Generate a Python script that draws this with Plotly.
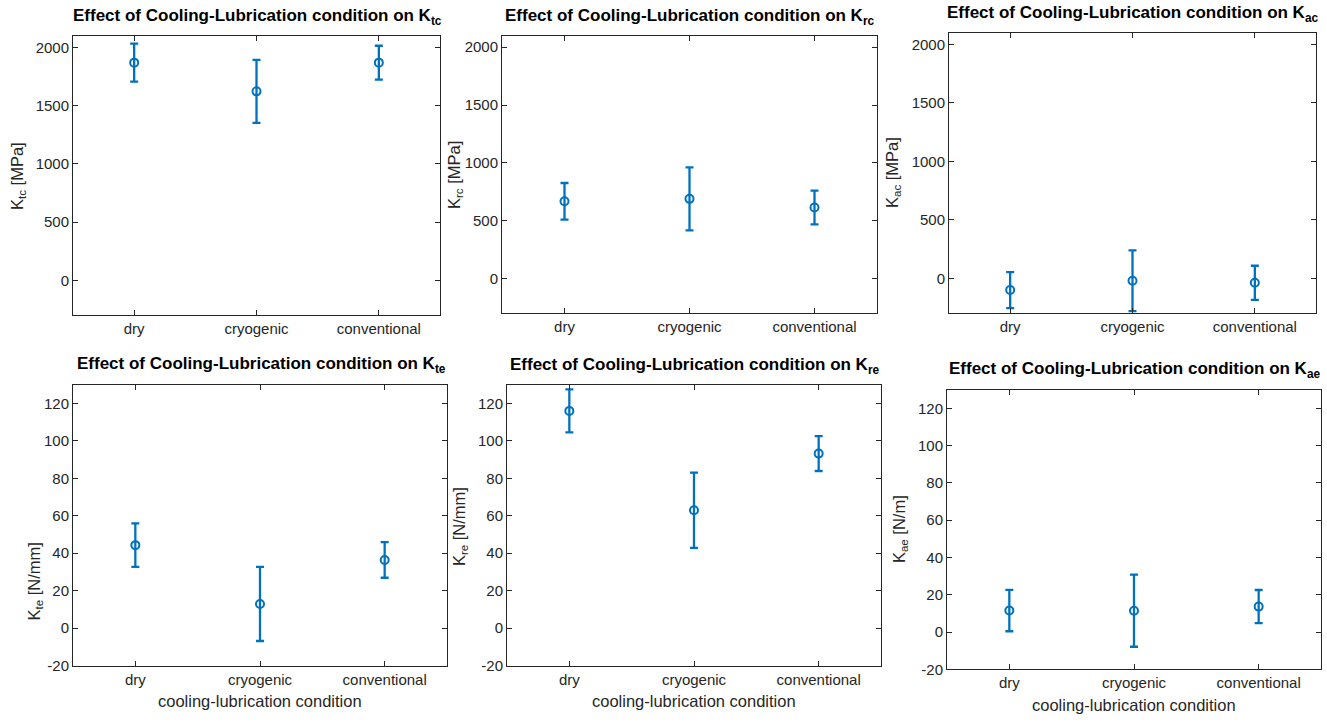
import plotly.graph_objects as go

# ---------------- data ----------------
categories = ["dry", "cryogenic", "conventional"]
cat_pos = [1, 2, 3]

ktc_mean = [1868, 1622, 1868]
ktc_err = [163, 270, 145]
krc_mean = [669, 690, 615]
krc_err = [158, 272, 146]
kac_mean = [-100, -20, -38]
kac_err = [154, 260, 146]

kte_mean = [44.3, 12.9, 36.4]
kte_err = [11.6, 19.8, 9.5]
kre_mean = [116.0, 62.9, 93.2]
kre_err = [11.5, 20.1, 9.3]
kae_mean = [11.6, 11.5, 13.7]
kae_err = [11.1, 19.3, 8.9]

subs = ["tc", "rc", "ac", "te", "re", "ae"]
units = ["MPa", "MPa", "MPa", "N/mm", "N/mm", "N/m"]
means = [ktc_mean, krc_mean, kac_mean, kte_mean, kre_mean, kae_mean]
errs = [ktc_err, krc_err, kac_err, kte_err, kre_err, kae_err]

top_ticks = [0, 500, 1000, 1500, 2000]
bot_ticks = [-20, 0, 20, 40, 60, 80, 100, 120]
top_tick_labels = ["0", "500", "1000", "1500", "2000"]
bot_tick_labels = ["-20", "0", "20", "40", "60", "80", "100", "120"]
xlabel = "cooling-lubrication condition"

# ---------------- layout geometry (pixels) ----------------
W, H = 1327, 722
boxes = [  # x0, x1, y0(top), y1(bottom)
    (73, 440, 36, 319),
    (502, 877, 36, 317),
    (949, 1316, 33, 317),
    (73, 447, 389, 673),
    (507, 881, 389, 673),
    (947, 1321, 394, 677),
]
title_pos = [(257, 17), (690, 17), (1133, 14), (261, 369), (695, 370), (1135, 374)]
ylab_pos = [(18, 178), (455, 177), (893, 175), (35, 588), (460, 532), (900, 535)]
xlab_pos = [None, None, None, (260, 709), (694, 709), (1134, 713)]

BLUE = "#0072BD"
DARK = "#262626"
FONT = "Liberation Sans, Arial, Helvetica, sans-serif"

fig = go.Figure()
annotations = []
layout_axes = {}

for i in range(6):
    n = i + 1
    xa = "x" if n == 1 else f"x{n}"
    ya = "y" if n == 1 else f"y{n}"
    fig.add_trace(go.Scatter(
        x=cat_pos, y=means[i], xaxis=xa, yaxis=ya,
        mode="markers",
        marker=dict(symbol="circle-open", size=8, color=BLUE, line=dict(width=2, color=BLUE)),
        error_y=dict(type="data", array=errs[i], visible=True, color=BLUE, thickness=2.3, width=4),
        showlegend=False, cliponaxis=True,
    ))
    x0, x1, y0, y1 = boxes[i]
    top = i < 3
    common = dict(showline=True, linecolor=DARK, linewidth=1, mirror="ticks",
                  ticks="inside", ticklen=5, tickcolor=DARK, showgrid=False, zeroline=False,
                  tickfont=dict(family=FONT, size=15, color=DARK))
    layout_axes[f"xaxis{'' if n == 1 else n}"] = dict(
        domain=[x0 / W, x1 / W], anchor=ya, range=[0.5, 3.5],
        tickmode="array", tickvals=cat_pos, ticktext=categories, **common)
    layout_axes[f"yaxis{'' if n == 1 else n}"] = dict(
        domain=[1 - y1 / H, 1 - y0 / H], anchor=xa,
        range=[-300, 2100] if top else [-20, 130],
        tickmode="array",
        tickvals=top_ticks if top else bot_ticks,
        ticktext=top_tick_labels if top else bot_tick_labels, **common)

    tx, ty = title_pos[i]
    annotations.append(dict(
        x=tx / W, y=1 - ty / H, xref="paper", yref="paper", showarrow=False,
        xanchor="center", yanchor="middle",
        text=f"<b>Effect of Cooling-Lubrication condition on K<sub>{subs[i]}</sub></b>",
        font=dict(family=FONT, size=17, color="black")))
    lx, ly = ylab_pos[i]
    annotations.append(dict(
        x=lx / W, y=1 - ly / H, xref="paper", yref="paper", showarrow=False,
        xanchor="center", yanchor="middle", textangle=-90,
        text=f"K<sub>{subs[i]}</sub> [{units[i]}]",
        font=dict(family=FONT, size=16.5, color=DARK)))
    if xlab_pos[i] is not None:
        bx, by = xlab_pos[i]
        annotations.append(dict(
            x=bx / W, y=1 - by / H, xref="paper", yref="paper", showarrow=False,
            xanchor="center", yanchor="middle", text=xlabel,
            font=dict(family=FONT, size=16.5, color=DARK)))

fig.update_layout(
    width=W, height=H, margin=dict(l=0, r=0, t=0, b=0),
    paper_bgcolor="white", plot_bgcolor="white",
    annotations=annotations, **layout_axes)

page_fix = (
    "var de=document.documentElement, b=document.body;"
    "de.style.margin='0'; de.style.padding='0'; de.style.height='722px'; de.style.overflow='hidden';"
    "b.style.margin='0'; b.style.padding='0'; b.style.height='722px'; b.style.overflow='hidden';"
)
fig.write_html("out.html", config={"displayModeBar": False}, post_script=page_fix)
